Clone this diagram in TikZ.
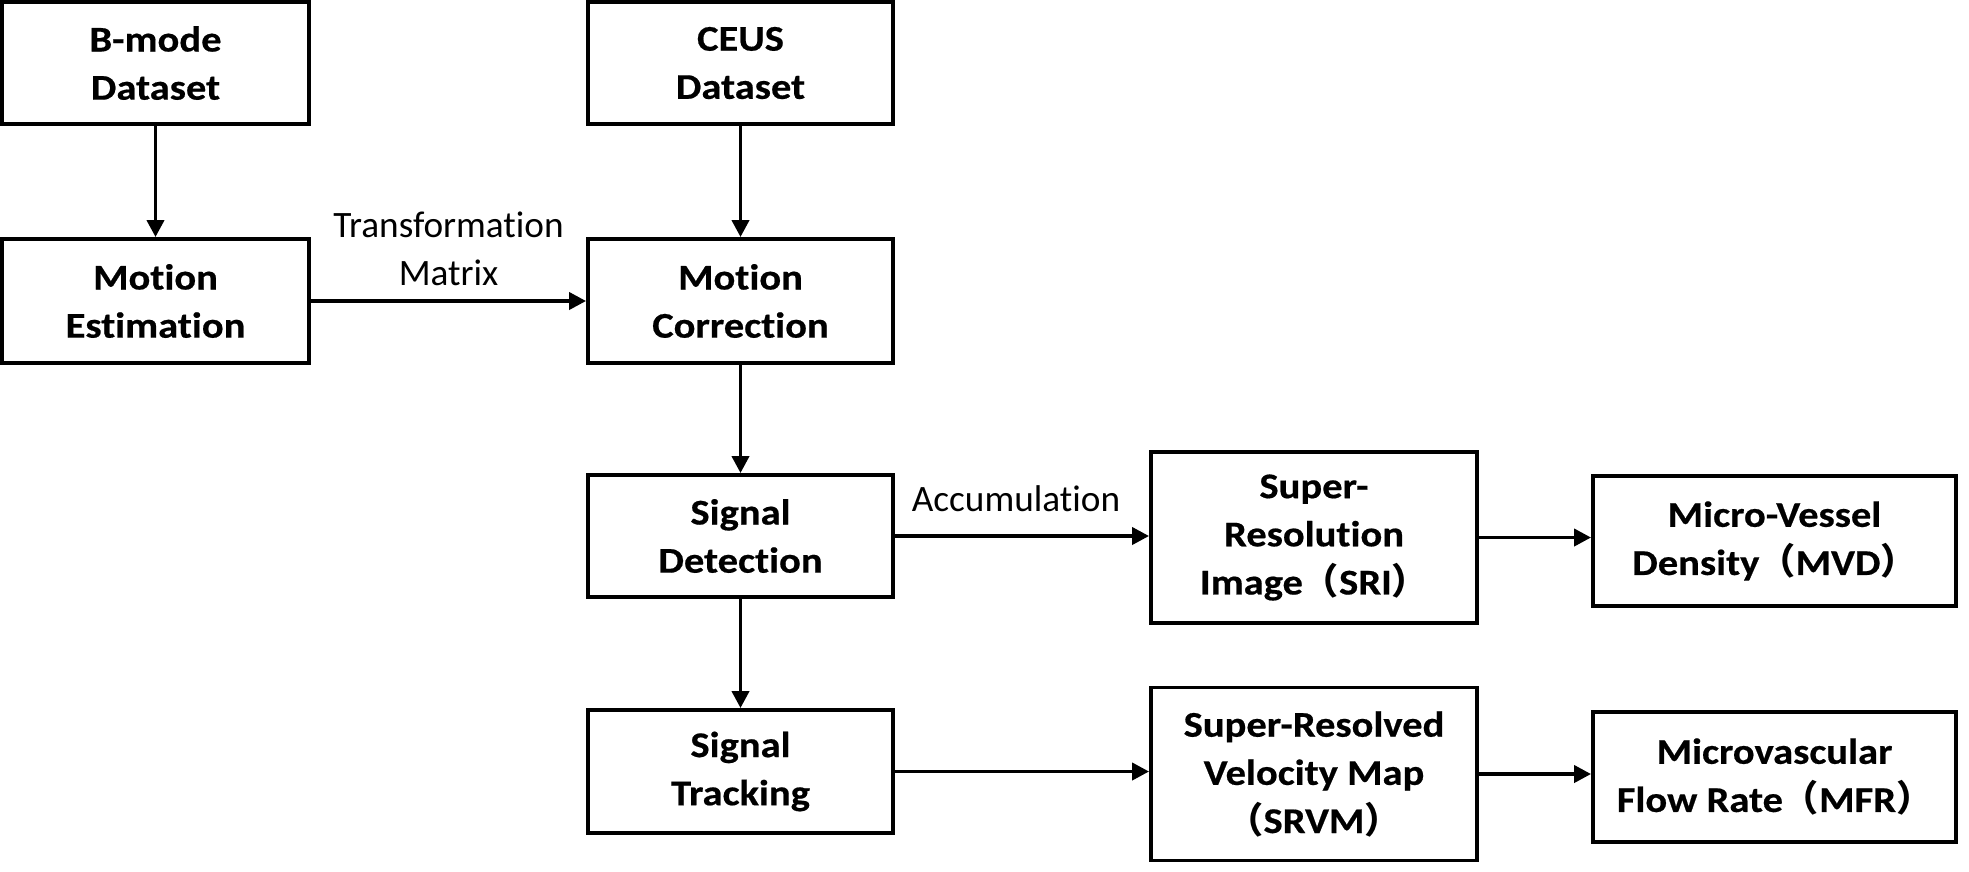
\documentclass[tikz,border=0pt]{standalone}
\usepackage{fontspec}
\setmainfont{Carlito}[Ligatures={NoCommon},BoldFeatures={FakeStretch=1.12,FakeBold=0.5}]
\newfontfamily\cjk{Noto Sans CJK SC}
\usetikzlibrary{positioning,arrows.meta}
\newcommand{\lpar}{{\cjk （}}
\newcommand{\rpar}{{\cjk ）}}

\begin{document}
\begin{tikzpicture}[box/.style={draw,line width=1.1pt,align=center,inner sep=2pt,font=\fontsize{10.3}{13.7}\selectfont\bfseries},
  flow/.style={-{Triangle[length=0.17cm,width=0.17cm]},line width=1.1pt},
  lbl/.style={align=center,inner sep=2pt,font=\fontsize{10.6}{13.7}\selectfont}]
  \useasboundingbox (0,0) rectangle (19.69,-8.71);
  % left column
  \node[box,minimum width=3.07cm,minimum height=1.22cm](bmode) at (1.555,-0.63){B-mode\\Dataset};
  \node[box,minimum width=3.07cm,minimum height=1.24cm](motest) at (1.555,-3.01){Motion\\Estimation};
  % middle column
  \node[box,minimum width=3.05cm,minimum height=1.22cm](ceus) at (7.405,-0.63){CEUS\\Dataset};
  \node[box,minimum width=3.05cm,minimum height=1.24cm](motcor) at (7.405,-3.01){Motion\\Correction};
  \node[box,minimum width=3.05cm,minimum height=1.22cm](sigdet) at (7.405,-5.36){Signal\\Detection};
  \node[box,minimum width=3.05cm,minimum height=1.23cm](sigtrk) at (7.405,-7.715){Signal\\Tracking};
  % results
  \node[box,minimum width=3.26cm,minimum height=1.71cm](sri) at (13.14,-5.375){Super-\\Resolution\\Image\lpar SRI\rpar};
  \node[box,minimum width=3.63cm,minimum height=1.30cm](mvd) at (17.745,-5.41){Micro-Vessel\\Density\lpar MVD\rpar};
  \node[box,minimum width=3.26cm,minimum height=1.73cm](srvm) at (13.14,-7.74){Super-Resolved\\Velocity Map\\\lpar SRVM\rpar};
  \node[box,minimum width=3.63cm,minimum height=1.30cm](mfr) at (17.745,-7.77){Microvascular\\Flow Rate\lpar MFR\rpar};

  \draw[flow] (bmode) -- (motest);
  \draw[flow] (ceus) -- (motcor);
  \draw[flow] (motcor) -- (sigdet);
  \draw[flow] (sigdet) -- (sigtrk);
  \draw[flow] (motest) -- node[lbl,above=0.06cm]{Transformation\\Matrix} (motcor);
  \draw[flow] (sigdet.east) -- node[lbl,above=0.15cm,xshift=-0.06cm]{Accumulation} (sri.west|-sigdet.east);
  \draw[flow] (sri.east) -- (mvd.west|-sri.east);
  \draw[flow] (sigtrk.east) -- (srvm.west|-sigtrk.east);
  \draw[flow] (srvm.east) -- (mfr.west|-srvm.east);
\end{tikzpicture}
\end{document}
